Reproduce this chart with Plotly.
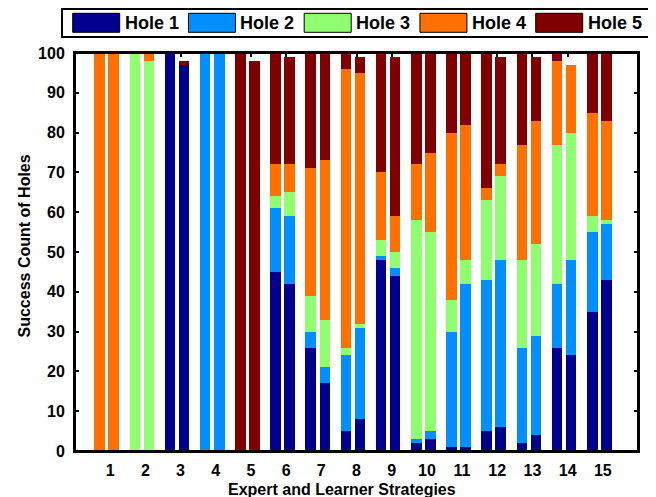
import plotly.graph_objects as go

strategies = list(range(1, 16))
hole_names = ["Hole 1", "Hole 2", "Hole 3", "Hole 4", "Hole 5"]
hole_colors = ["#00008F", "#008FFF", "#8FFF70", "#FF7000", "#800000"]

# Expert strategy success counts per hole
expert_hole1 = [0, 0, 100, 0, 0, 45, 26, 5, 48, 2, 1, 5, 2, 26, 35]
expert_hole2 = [0, 0, 0, 100, 0, 16, 4, 19, 1, 1, 29, 38, 24, 16, 20]
expert_hole3 = [0, 100, 0, 0, 0, 3, 9, 2, 4, 55, 8, 20, 22, 35, 4]
expert_hole4 = [100, 0, 0, 0, 0, 8, 32, 70, 17, 14, 42, 3, 29, 21, 26]
expert_hole5 = [0, 0, 0, 0, 100, 28, 29, 4, 30, 28, 20, 34, 23, 2, 15]

# Learner strategy success counts per hole
learner_hole1 = [0, 0, 97, 0, 0, 42, 17, 8, 44, 3, 1, 6, 4, 24, 43]
learner_hole2 = [0, 0, 0, 100, 0, 17, 4, 23, 2, 2, 41, 42, 25, 24, 14]
learner_hole3 = [0, 98, 0, 0, 0, 6, 12, 1, 4, 50, 6, 21, 23, 32, 1]
learner_hole4 = [100, 2, 0, 0, 0, 7, 40, 63, 9, 20, 34, 3, 31, 17, 25]
learner_hole5 = [0, 0, 1, 0, 98, 27, 27, 4, 40, 25, 18, 27, 16, 0, 17]

expert_sets = [expert_hole1, expert_hole2, expert_hole3, expert_hole4, expert_hole5]
learner_sets = [learner_hole1, learner_hole2, learner_hole3, learner_hole4, learner_hole5]

EXPERT_OFFSET = -0.3
LEARNER_OFFSET = 0.1
BAR_WIDTH = 0.3

x_expert = [s + EXPERT_OFFSET for s in strategies]
x_learner = [s + LEARNER_OFFSET for s in strategies]

fig = go.Figure()
for name, color, ev, lv in zip(hole_names, hole_colors, expert_sets, learner_sets):
    fig.add_trace(go.Bar(
        x=x_expert + x_learner,
        y=ev + lv,
        width=BAR_WIDTH,
        name=name,
        marker=dict(color=color, line=dict(width=0)),
        showlegend=False,
    ))

FONT = "Liberation Sans, Arial, sans-serif"
PAGE_OFFSET = 8  # default body margin of the html page
W, H = 656 - PAGE_OFFSET, 497 - PAGE_OFFSET
# plot area in window pixels: x 75..638, y 53..451
PLOT_L, PLOT_R, PLOT_T, PLOT_B = 75, 638, 53, 451
ML = PLOT_L - PAGE_OFFSET
MT = PLOT_T - PAGE_OFFSET
MR = (W + PAGE_OFFSET) - PLOT_R
MB = (H + PAGE_OFFSET) - PLOT_B
PW = PLOT_R - PLOT_L
PH = PLOT_B - PLOT_T

def px_x(px):
    return (px - PLOT_L) / PW

def px_y(py):
    return (PLOT_B - py) / PH

shapes = []
annotations = []
# legend box
shapes.append(dict(type="rect", xref="paper", yref="paper",
                   x0=px_x(62), x1=px_x(649), y0=px_y(37), y1=px_y(9),
                   line=dict(color="black", width=2), fillcolor="white", layer="above"))
for k, (name, color) in enumerate(zip(hole_names, hole_colors)):
    sx0 = 72.7 + k * 115.75
    shapes.append(dict(type="rect", xref="paper", yref="paper",
                       x0=px_x(sx0), x1=px_x(sx0 + 47), y0=px_y(32.3), y1=px_y(13.3),
                       line=dict(color="black", width=1), fillcolor=color, layer="above"))
    annotations.append(dict(xref="paper", yref="paper", x=px_x(sx0 + 50), y=px_y(23),
                            text="<b>" + name + "</b>", showarrow=False,
                            xanchor="left", yanchor="middle",
                            font=dict(family=FONT, size=18, color="black")))
# axis titles
annotations.append(dict(xref="paper", yref="paper", x=px_x(342), y=px_y(489),
                        text="<b>Expert and Learner Strategies</b>", showarrow=False,
                        xanchor="center", yanchor="middle",
                        font=dict(family=FONT, size=16, color="black")))
annotations.append(dict(xref="paper", yref="paper", x=px_x(23.5), y=px_y(246),
                        text="<b>Success Count of Holes</b>", showarrow=False,
                        textangle=-90, xanchor="center", yanchor="middle",
                        font=dict(family=FONT, size=16, color="black")))
# plot frame
shapes.append(dict(type="rect", xref="paper", yref="paper", x0=0, x1=1, y0=0, y1=1,
                   line=dict(color="black", width=2), layer="above"))

fig.update_layout(
    width=W, height=H,
    margin=dict(l=ML, r=MR, t=MT, b=MB, pad=0, autoexpand=False),
    barmode="relative",
    bargap=0,
    plot_bgcolor="white",
    paper_bgcolor="white",
    shapes=shapes,
    annotations=annotations,
    font=dict(family=FONT, color="black"),
    xaxis=dict(
        range=[0, 16],
        tickmode="array",
        tickvals=strategies,
        ticktext=[str(s) for s in strategies],
        ticks="inside", ticklen=4, tickwidth=1.5, tickcolor="black",
        showline=True, linecolor="black", linewidth=2, mirror="ticks",
        showgrid=False, zeroline=False,
        layer="below traces",
        automargin=False,
        tickfont=dict(family=FONT, size=16, color="black", weight="bold"),
        ticklabelstandoff=4,
    ),
    yaxis=dict(
        range=[0, 100],
        tickmode="linear", tick0=0, dtick=10,
        ticks="inside", ticklen=4, tickwidth=1.5, tickcolor="black",
        showline=True, linecolor="black", linewidth=2, mirror="ticks",
        showgrid=False, zeroline=False,
        layer="below traces",
        automargin=False,
        tickfont=dict(family=FONT, size=16, color="black", weight="bold"),
        ticklabelstandoff=5,
    ),
)

fig.write_html("out.html")
